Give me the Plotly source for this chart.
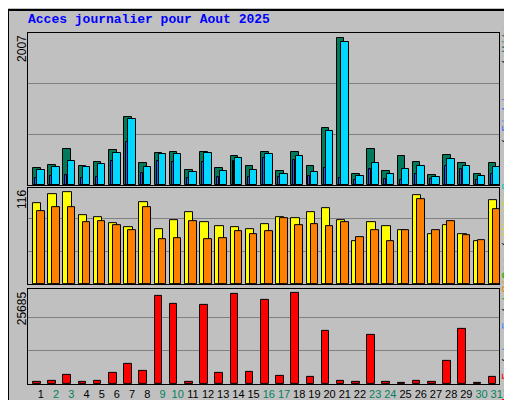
import plotly.graph_objects as go
from plotly.subplots import make_subplots

days = list(range(1, 32))
weekend = [2, 3, 9, 10, 16, 17, 23, 24, 30, 31]

# values
hits = [231, 276, 488, 258, 312, 475, 923, 299, 434, 448, 208, 448, 231, 398, 258, 448, 195, 448, 258, 778, 1998, 154, 488, 195, 398, 312, 140, 411, 299, 154, 299]
files = [208, 249, 330, 240, 290, 440, 902, 240, 417, 417, 181, 440, 195, 372, 208, 417, 154, 399, 181, 738, 1944, 127, 303, 154, 222, 263, 113, 358, 263, 127, 249]
pages = [100, 127, 140, 100, 113, 330, 590, 168, 330, 317, 100, 317, 113, 330, 113, 371, 113, 344, 127, 236, 100, 68, 222, 86, 72, 154, 86, 263, 222, 72, 154]
visites = [102, 113, 116, 87, 84, 77, 72, 103, 69, 81, 91, 78, 73, 72, 69, 76, 84, 83, 91, 96, 81, 54, 78, 73, 68, 112, 63, 74, 63, 54, 106]
sites = [92, 97, 97, 78, 79, 74, 68, 97, 56, 58, 79, 56, 58, 67, 63, 67, 83, 74, 76, 73, 78, 59, 68, 54, 68, 107, 68, 79, 62, 55, 94]
ko = [656, 937, 2625, 656, 937, 3187, 5718, 3750, 24654, 22404, 656, 22123, 3187, 25216, 3469, 23529, 2343, 25497, 2062, 14998, 937, 656, 13873, 656, 375, 937, 656, 6561, 15560, 375, 2062]

fig = make_subplots(rows=3, cols=1, shared_xaxes=True, vertical_spacing=0.01)
ln = dict(color="black", width=1)

fig.add_trace(go.Bar(x=days, y=hits, offset=-0.17, width=0.5, marker=dict(color="#007a5a", line=ln)), 1, 1)
fig.add_trace(go.Bar(x=days, y=pages, offset=-0.04, width=0.13, marker=dict(color="#1a5cff", line=ln)), 1, 1)
fig.add_trace(go.Bar(x=days, y=files, offset=0.11, width=0.49, marker=dict(color="#00d8ff", line=ln)), 1, 1)
fig.add_trace(go.Bar(x=days, y=visites, offset=-0.17, width=0.55, marker=dict(color="#ffff00", line=ln)), 2, 1)
fig.add_trace(go.Bar(x=days, y=sites, offset=0.1, width=0.5, marker=dict(color="#ff8000", line=ln)), 2, 1)
fig.add_trace(go.Bar(x=days, y=ko, offset=-0.17, width=0.5, marker=dict(color="#ff0000", line=ln)), 3, 1)

ticktext = [f'<span style="color:{"#008060" if d in weekend else "black"}">{d}</span>' for d in days]
ax = dict(showgrid=False, zeroline=False, showline=True, linecolor="black", mirror=True,
          range=[0.5, 31.5], automargin=False)
fig.update_xaxes(**ax, showticklabels=False, ticks="")
fig.update_xaxes(showticklabels=True, tickvals=[d + 0.35 for d in days], ticktext=ticktext, tickangle=0,
                 tickfont=dict(family="Liberation Sans", size=11), row=3, col=1)
yax = dict(showticklabels=False, zeroline=False, showline=True, linecolor="black", mirror=True,
           gridcolor="#808080", gridwidth=1, automargin=False)
fig.update_yaxes(**yax, range=[0, 2067], dtick=689, domain=[0.567, 1], row=1, col=1)
fig.update_yaxes(**yax, range=[0, 121], dtick=41.6, domain=[0.285, 0.558], row=2, col=1)
fig.update_yaxes(**yax, range=[0, 26622], dtick=9280, domain=[0, 0.271], row=3, col=1)

mono = "Liberation Mono"
ann = [
    dict(x=-0.014, y=1.0, text="2007"),
    dict(x=-0.014, y=0.558, text="116"),
    dict(x=-0.014, y=0.271, text="25685"),
]
for a in ann:
    fig.add_annotation(xref="paper", yref="paper", showarrow=False, textangle=-90, xanchor="center", yanchor="top",
                       font=dict(family="Liberation Sans", size=12, color="black"), **a)

right = [
    '<span style="color:#00c0e0">Pages</span> / <span style="color:#3070ff">Fichiers</span> / <span style="color:#007a5a">Hits</span>',
    '<span style="color:#ff8000">Sites</span> / <span style="color:#e0e000">Visites</span>',
    '<span style="color:#ff0000">ko F</span> / <span style="color:#3090ff">ko E</span> / <span style="color:#00c000">ko S</span>',
]
fig.add_annotation(xref="paper", yref="paper", x=1.019, y=0.79, text=right[0], textangle=-90, showarrow=False,
                   xanchor="center", yanchor="middle", font=dict(family=mono, size=12, color="black"))
fig.add_annotation(xref="paper", yref="paper", x=1.019, y=0.573, text=right[1], textangle=-90, showarrow=False,
                   xanchor="center", yanchor="top", font=dict(family=mono, size=12, color="black"))
fig.add_annotation(xref="paper", yref="paper", x=1.019, y=0.135, text=right[2], textangle=-90, showarrow=False,
                   xanchor="center", yanchor="middle", font=dict(family=mono, size=12, color="black"))

fig.add_shape(type="rect", xref="paper", yref="paper", x0=-20 / 471, x1=510 / 471 - 20 / 471,
              y0=-22 / 351, y1=(376 - 2) / 351, line=dict(color="black", width=2), fillcolor="rgba(0,0,0,0)", layer="below")

fig.update_layout(
    width=512, height=400, showlegend=False, barmode="overlay", bargap=0,
    margin=dict(l=20, r=21, t=25, b=24, autoexpand=False),
    paper_bgcolor="#c0c0c0", plot_bgcolor="#c0c0c0",
    title=dict(text="<b>Acces journalier pour Aout 2025</b>", x=20 / 512, xanchor="left", y=0.975, yanchor="middle",
               font=dict(family=mono, size=13, color="#0000ff")),
)

fig.write_html("out.html")
